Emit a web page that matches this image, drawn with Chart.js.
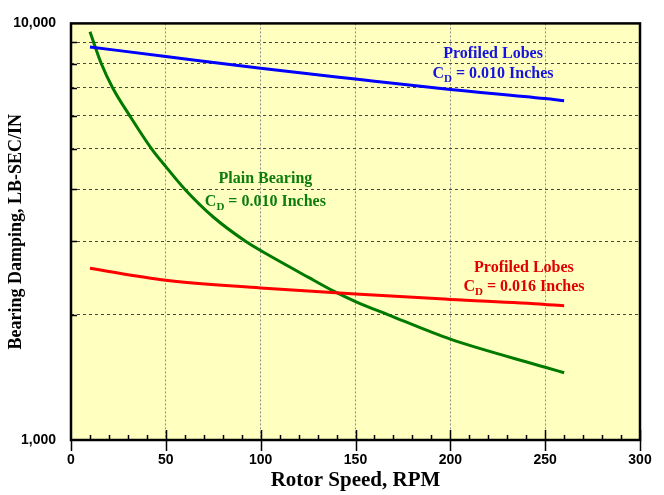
<!DOCTYPE html>
<html lang="en">
<head>
    <meta charset="UTF-8">
    <title>Bearing Damping vs Rotor Speed</title>
    <script src="https://cdn.jsdelivr.net/npm/chart.js"></script>
    <style>
        body {
            margin: 0;
            background: #ffffff;
        }
        #wrap {
            width: 664px;
            height: 495px;
            position: relative;
        }
    </style>
</head>
<body>
    <div id="wrap">
        <canvas id="dampChart"></canvas>
    </div>

    <script>
        // rotor speed (RPM) and damping (LB-SEC/IN)
        const blueSpeed = [10, 50, 100, 150, 200, 250, 260];
        const blueDamping = [8780, 8330, 7800, 7350, 6940, 6600, 6520];

        const redSpeed = [10, 50, 100, 150, 200, 250, 260];
        const redDamping = [2584, 2417, 2317, 2240, 2175, 2116, 2100];

        const greenSpeed = [10, 16, 22, 31, 42.5, 50, 60, 75, 92, 100, 125, 139, 150, 167, 200, 250, 260];
        const greenDamping = [9550, 8000, 7000, 6000, 5000, 4530, 4000, 3430, 3000, 2850, 2460, 2270, 2150, 2000, 1746, 1495, 1450];

        const yGridValues = [1000, 2000, 3000, 4000, 5000, 6000, 7000, 8000, 9000, 10000];
        const yTickLabels = { 1000: '1,000', 10000: '10,000' };

        // curve labels: [speed, damping] anchor for each text line
        const labelNotes = [
            { color: '#1414dc', x: 222.5, y1: 8437, y2: 7560, line1: 'Profiled Lobes', sub: '0.010' },
            { color: '#0c7c0c', x: 102.5, y1: 4229, y2: 3728, line1: 'Plain Bearing', sub: '0.010' },
            { color: '#e00000', x: 238.8, y1: 2596, y2: 2326, line1: 'Profiled Lobes', sub: '0.016' }
        ];

        function toPoints(xs, ys) {
            return xs.map((x, i) => ({ x: x, y: ys[i] }));
        }

        const serif = "'Liberation Serif', 'Times New Roman', serif";
        const sans = "'Liberation Sans', Arial, sans-serif";

        // pale yellow plot area + black frame + tick marks
        const framePlugin = {
            id: 'frame',
            beforeDraw(chart) {
                const { ctx, chartArea: a } = chart;
                ctx.save();
                ctx.fillStyle = '#ffffc0';
                ctx.fillRect(a.left, a.top, a.right - a.left, a.bottom - a.top);
                ctx.restore();
            },
            afterDraw(chart) {
                const { ctx, chartArea: a, scales } = chart;
                ctx.save();
                ctx.strokeStyle = '#000';
                ctx.lineWidth = 1.5;
                ctx.beginPath();
                for (let v = 0; v <= 300; v += 10) {
                    const px = Math.round(scales.x.getPixelForValue(v)) + 0.5;
                    if (v % 50 === 0) {
                        ctx.moveTo(px, a.bottom - (v === 0 ? 0 : 10));
                        ctx.lineTo(px, a.bottom + 11);
                    } else {
                        ctx.moveTo(px, a.bottom);
                        ctx.lineTo(px, a.bottom - 5);
                    }
                }
                yGridValues.forEach(v => {
                    if (v === 1000 || v === 10000) return;
                    const py = Math.round(scales.y.getPixelForValue(v)) + 0.5;
                    ctx.moveTo(a.left, py);
                    ctx.lineTo(a.left + 6, py);
                });
                ctx.stroke();
                ctx.lineWidth = 2.5;
                ctx.strokeRect(a.left, a.top, a.right - a.left, a.bottom - a.top);
                ctx.restore();
            }
        };

        const notePlugin = {
            id: 'notes',
            afterDatasetsDraw(chart) {
                const { ctx, scales } = chart;
                ctx.save();
                ctx.textBaseline = 'middle';
                labelNotes.forEach(n => {
                    const cx = scales.x.getPixelForValue(n.x);
                    const y1 = scales.y.getPixelForValue(n.y1);
                    const y2 = scales.y.getPixelForValue(n.y2);
                    ctx.fillStyle = n.color;
                    ctx.font = 'bold 16px ' + serif;
                    ctx.textAlign = 'center';
                    ctx.fillText(n.line1, cx, y1);

                    // C with subscript D, then the rest
                    const rest = ' = ' + n.sub + ' Inches';
                    const big = 'bold 16px ' + serif;
                    const small = 'bold 11px ' + serif;
                    ctx.font = big;
                    const wC = ctx.measureText('C').width;
                    const wRest = ctx.measureText(rest).width;
                    ctx.font = small;
                    const wD = ctx.measureText('D').width;
                    let x = cx - (wC + wD + wRest) / 2;
                    ctx.textAlign = 'left';
                    ctx.font = big;
                    ctx.fillText('C', x, y2);
                    x += wC;
                    ctx.font = small;
                    ctx.fillText('D', x, y2 + 5);
                    x += wD;
                    ctx.font = big;
                    ctx.fillText(rest, x, y2);
                });
                ctx.restore();
            }
        };

        const lineStyle = {
            showLine: true,
            pointRadius: 0,
            borderWidth: 3,
            fill: false,
            cubicInterpolationMode: 'monotone'
        };

        new Chart(document.getElementById('dampChart'), {
            type: 'scatter',
            data: {
                datasets: [
                    Object.assign({ label: 'Profiled Lobes CD = 0.010', data: toPoints(blueSpeed, blueDamping), borderColor: '#0000ff' }, lineStyle),
                    Object.assign({ label: 'Profiled Lobes CD = 0.016', data: toPoints(redSpeed, redDamping), borderColor: '#ff0000' }, lineStyle),
                    Object.assign({ label: 'Plain Bearing CD = 0.010', data: toPoints(greenSpeed, greenDamping), borderColor: '#007a00' }, lineStyle)
                ]
            },
            options: {
                responsive: true,
                maintainAspectRatio: false,
                animation: false,
                layout: { padding: { left: 0, right: 24, top: 20, bottom: 0 } },
                plugins: {
                    legend: { display: false },
                    tooltip: { enabled: false }
                },
                scales: {
                    x: {
                        type: 'linear',
                        min: 0,
                        max: 300,
                        ticks: {
                            stepSize: 50,
                            color: '#000',
                            padding: 12,
                            maxRotation: 0,
                            font: { family: sans, size: 14, weight: 'bold' }
                        },
                        grid: {
                            color: '#8c8c8c',
                            lineWidth: 1,
                            drawTicks: false
                        },
                        border: { display: false, dash: [2, 2] },
                        title: {
                            display: true,
                            text: 'Rotor Speed, RPM',
                            color: '#000',
                            font: { family: serif, size: 21, weight: 'bold' },
                            padding: { top: 0, bottom: 2 }
                        },
                        afterFit(scale) { scale.height = 55; }
                    },
                    y: {
                        type: 'logarithmic',
                        min: 1000,
                        max: 10000,
                        afterBuildTicks(scale) {
                            scale.ticks = yGridValues.map(v => ({ value: v }));
                        },
                        ticks: {
                            color: '#000',
                            padding: 15,
                            autoSkip: false,
                            font: { family: sans, size: 14, weight: 'bold' },
                            callback: v => yTickLabels[v] || ''
                        },
                        grid: {
                            color: '#444',
                            lineWidth: 1,
                            drawTicks: false
                        },
                        border: { display: false, dash: [3, 3] },
                        title: {
                            display: true,
                            text: 'Bearing Damping, LB-SEC/IN',
                            color: '#000',
                            font: { family: serif, size: 18, weight: 'bold' },
                            padding: { top: 6, bottom: 0 }
                        },
                        afterFit(scale) { scale.width = 71; }
                    }
                }
            },
            plugins: [framePlugin, notePlugin]
        });
    </script>
</body>
</html>
